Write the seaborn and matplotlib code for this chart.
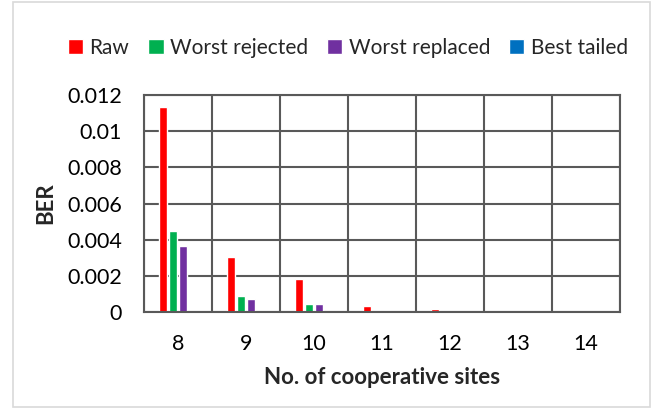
import matplotlib
matplotlib.use("Agg")
import matplotlib.pyplot as plt
import matplotlib.patches as mpatches
from matplotlib.ticker import FixedLocator, FormatStrFormatter
import seaborn as sns
import pandas as pd

sites = ["8", "9", "10", "11", "12", "13", "14"]
methods = ["Raw", "Worst rejected", "Worst replaced", "Best tailed"]
raw = [0.01135, 0.00302, 0.00184, 0.00033, 0.00015, 0.00002, 0.00002]
worst_rejected = [0.00448, 0.00088, 0.00043, 0.00003, 0.00002, 0.000005, 0.000005]
worst_replaced = [0.00367, 0.00072, 0.00043, 0.00003, 0.00002, 0.000005, 0.000005]
best_tailed = [0, 0, 0, 0, 0, 0, 0]
colors = ["#FF0000", "#00B050", "#7030A0", "#0070C0"]

series = [raw, worst_rejected, worst_replaced, best_tailed]
rows = []
for m, vals in zip(methods, series):
    for s, v in zip(sites, vals):
        rows.append({"sites": s, "BER": v, "method": m})
df = pd.DataFrame(rows)

sns.set_theme(style="white")
plt.rcParams["font.family"] = ["Lato", "DejaVu Sans"]
grid_col = "#595959"

fig = plt.figure(figsize=(6.56, 4.08), dpi=100)
ax = fig.add_axes([144 / 656, 1 - 312 / 408, (620 - 144) / 656, (312 - 95) / 408])

sns.barplot(data=df, x="sites", y="BER", hue="method", order=sites,
            hue_order=methods, palette=colors, width=0.6, gap=0.2,
            saturation=1, ax=ax, legend=True)

handles, labels = ax.get_legend_handles_labels()
ax.get_legend().remove()
fig.legend(handles, labels, loc="center", bbox_to_anchor=(0.53, 1 - 48 / 408),
           ncol=4, frameon=False, fontsize=15, handlelength=0.75,
           handleheight=0.75, handletextpad=0.3, columnspacing=0.9)

ax.set_ylim(0, 0.012)
ax.set_xlim(-0.5, 6.5)
ax.yaxis.set_major_locator(FixedLocator([0, 0.002, 0.004, 0.006, 0.008, 0.01, 0.012]))
ax.yaxis.set_major_formatter(FormatStrFormatter("%g"))
ax.xaxis.set_minor_locator(FixedLocator([i - 0.5 for i in range(8)]))
ax.grid(True, axis="y", which="major", color=grid_col, lw=1.5)
ax.grid(True, axis="x", which="minor", color=grid_col, lw=1.5)
ax.set_axisbelow(True)
for sp in ax.spines.values():
    sp.set_visible(True)
    sp.set_color(grid_col)
    sp.set_linewidth(1.5)

ax.tick_params(axis="both", which="both", length=0, labelsize=15.5, colors="black")
ax.tick_params(axis="y", pad=16)
ax.tick_params(axis="x", pad=16)
ax.set_xlabel("No. of cooperative sites", fontsize=16, fontweight="bold", labelpad=9)
ax.set_ylabel("BER", fontsize=16, fontweight="bold", labelpad=8)

fig.patches.append(mpatches.Rectangle((13 / 656, 1 / 408), (650 - 13) / 656, 405 / 408,
                                      transform=fig.transFigure, fill=False,
                                      edgecolor="#d9d9d9", lw=1.2))

fig.savefig("out.png", dpi=100)
